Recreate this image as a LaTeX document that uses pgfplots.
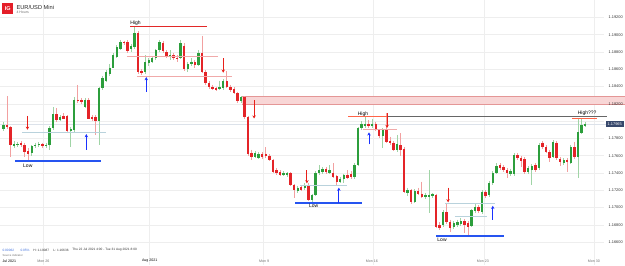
\documentclass[border=0pt]{standalone}
\usepackage{pgfplots}
\pgfplotsset{compat=1.18}
\usepackage{pgfplotstable}
\usepackage{fontspec}
\setmainfont{Liberation Sans}
\usetikzlibrary{arrows.meta}
\definecolor{cg}{RGB}{44,158,60}
\definecolor{cr}{RGB}{228,36,40}
\definecolor{wg}{RGB}{160,212,166}
\definecolor{wr}{RGB}{242,160,160}
\definecolor{gridc}{RGB}{238,238,238}
\definecolor{lowblue}{RGB}{38,84,240}
\definecolor{arrblue}{RGB}{26,50,255}
\definecolor{arrred}{RGB}{232,32,26}
\definecolor{palered}{RGB}{240,170,170}
\definecolor{paleblue}{RGB}{185,210,220}
\definecolor{hired}{RGB}{226,40,40}
\definecolor{hiorange}{RGB}{255,100,72}
\definecolor{pinkfill}{RGB}{248,214,214}
\definecolor{pinkedge}{RGB}{228,150,150}
\definecolor{boxc}{RGB}{55,72,108}
\definecolor{igred}{RGB}{228,30,40}
\definecolor{txtgrey}{RGB}{110,110,110}
\definecolor{infoblue}{RGB}{60,110,220}
\definecolor{pricel}{RGB}{220,226,234}
\newcommand{\tksz}{\fontsize{3.9}{4.5}\selectfont}
\newcommand{\xlsz}{\fontsize{3.6}{4.2}\selectfont}
\newcommand{\infosz}{\fontsize{3.2}{3.8}\selectfont}
\newcommand{\ansz}{\fontsize{5}{6}\selectfont}

\pgfplotstableread{
k o h l c
0 1.1791 1.1799 1.1788 1.1795
1 1.1795 1.1829 1.1791 1.1793
2 1.1793 1.1794 1.1758 1.1772
3 1.1771 1.1777 1.1769 1.1773
4 1.1772 1.1776 1.1770 1.1773
5 1.1775 1.1777 1.1770 1.1772
6 1.1772 1.1775 1.1758 1.1764
7 1.1765 1.1769 1.1754 1.1762
8 1.1763 1.1772 1.1760 1.1771
9 1.1771 1.1775 1.1769 1.1772
10 1.1772 1.1776 1.1770 1.1773
11 1.1773 1.1775 1.1769 1.1771
12 1.1771 1.1775 1.1769 1.1772
13 1.1772 1.1794 1.1767 1.1792
14 1.1792 1.1816 1.1790 1.1808
15 1.1808 1.1815 1.1799 1.1801
16 1.1801 1.1807 1.1800 1.1805
17 1.1806 1.1809 1.1802 1.1803
18 1.1806 1.1807 1.1786 1.1788
19 1.1788 1.1793 1.1770 1.1791
20 1.1790 1.1828 1.1787 1.1825
21 1.1825 1.1842 1.1821 1.1823
22 1.1824 1.1827 1.1820 1.1822
23 1.1816 1.1827 1.1815 1.1825
24 1.1825 1.1827 1.1802 1.1803
25 1.1805 1.1807 1.1800 1.1802
26 1.1805 1.1807 1.1784 1.1800
27 1.1800 1.1840 1.1772 1.1838
28 1.1838 1.1852 1.1836 1.1850
29 1.1847 1.1859 1.1845 1.1857
30 1.1854 1.1866 1.1852 1.1862
31 1.1862 1.1879 1.1861 1.1876
32 1.1874 1.1888 1.1873 1.1886
33 1.1884 1.1894 1.1882 1.1891
34 1.1891 1.1893 1.1888 1.1890
35 1.1891 1.1894 1.1879 1.1881
36 1.1883 1.1889 1.1880 1.1887
37 1.1886 1.1909 1.1884 1.1902
38 1.1902 1.1904 1.1854 1.1857
39 1.1858 1.1860 1.1853 1.1856
40 1.1857 1.1876 1.1854 1.1868
41 1.1867 1.1873 1.1864 1.1871
42 1.1869 1.1875 1.1867 1.1873
43 1.1873 1.1883 1.1871 1.1882
44 1.1882 1.1894 1.1880 1.1891
45 1.1890 1.1893 1.1879 1.1881
46 1.1880 1.1882 1.1873 1.1875
47 1.1874 1.1882 1.1871 1.1876
48 1.1876 1.1879 1.1871 1.1873
49 1.1873 1.1876 1.1869 1.1872
50 1.1873 1.1894 1.1872 1.1890
51 1.1887 1.1890 1.1858 1.1860
52 1.1860 1.1868 1.1857 1.1866
53 1.1866 1.1873 1.1864 1.1869
54 1.1868 1.1871 1.1862 1.1865
55 1.1865 1.1882 1.1864 1.1879
56 1.1879 1.1899 1.1856 1.1857
57 1.1857 1.1859 1.1842 1.1844
58 1.1844 1.1846 1.1837 1.1839
59 1.1839 1.1842 1.1836 1.1837
60 1.1838 1.1840 1.1835 1.1836
61 1.1837 1.1847 1.1836 1.1839
62 1.1838 1.1849 1.1836 1.1847
63 1.1846 1.1858 1.1838 1.1839
64 1.1839 1.1842 1.1834 1.1836
65 1.1837 1.1839 1.1831 1.1832
66 1.1832 1.1834 1.1821 1.1823
67 1.1823 1.1829 1.1821 1.1828
68 1.1828 1.1829 1.1802 1.1805
69 1.1805 1.1806 1.1760 1.1762
70 1.1763 1.1767 1.1755 1.1758
71 1.1758 1.1765 1.1757 1.1763
72 1.1757 1.1764 1.1756 1.1762
73 1.1762 1.1764 1.1756 1.1758
74 1.1762 1.1770 1.1757 1.1760
75 1.1760 1.1762 1.1754 1.1755
76 1.1755 1.1756 1.1740 1.1741
77 1.1743 1.1746 1.1738 1.1740
78 1.1741 1.1743 1.1736 1.1738
79 1.1738 1.1742 1.1736 1.1740
80 1.1738 1.1741 1.1735 1.1740
81 1.1740 1.1741 1.1725 1.1726
82 1.1726 1.1727 1.1711 1.1720
83 1.1719 1.1725 1.1717 1.1723
84 1.1724 1.1726 1.1719 1.1720
85 1.1723 1.1728 1.1720 1.1726
86 1.1726 1.1728 1.1708 1.1709
87 1.1709 1.1716 1.1706 1.1714
88 1.1714 1.1742 1.1713 1.1740
89 1.1740 1.1749 1.1738 1.1743
90 1.1741 1.1747 1.1739 1.1745
91 1.1745 1.1747 1.1739 1.1741
92 1.1740 1.1749 1.1739 1.1743
93 1.1740 1.1751 1.1734 1.1735
94 1.1736 1.1738 1.1726 1.1730
95 1.1730 1.1735 1.1728 1.1733
96 1.1733 1.1739 1.1728 1.1738
97 1.1738 1.1743 1.1733 1.1734
98 1.1739 1.1742 1.1733 1.1735
99 1.1735 1.1751 1.1733 1.1749
100 1.1749 1.1793 1.1748 1.1792
101 1.1792 1.1800 1.1790 1.1797
102 1.1794 1.1805 1.1792 1.1797
103 1.1797 1.1801 1.1792 1.1794
104 1.1794 1.1803 1.1792 1.1797
105 1.1797 1.1799 1.1788 1.1790
106 1.1790 1.1791 1.1780 1.1783
107 1.1783 1.1792 1.1769 1.1790
108 1.1790 1.1809 1.1775 1.1776
109 1.1777 1.1782 1.1772 1.1775
110 1.1775 1.1777 1.1765 1.1767
111 1.1767 1.1784 1.1764 1.1773
112 1.1772 1.1786 1.1760 1.1767
113 1.1768 1.1770 1.1717 1.1718
114 1.1717 1.1723 1.1713 1.1720
115 1.1720 1.1721 1.1704 1.1706
116 1.1706 1.1721 1.1705 1.1719
117 1.1719 1.1723 1.1714 1.1716
118 1.1716 1.1730 1.1711 1.1712
119 1.1712 1.1717 1.1710 1.1714
120 1.1712 1.1743 1.1694 1.1714
121 1.1713 1.1717 1.1711 1.1716
122 1.1714 1.1716 1.1676 1.1677
123 1.1680 1.1683 1.1674 1.1676
124 1.1680 1.1697 1.1677 1.1695
125 1.1695 1.1705 1.1681 1.1683
126 1.1683 1.1686 1.1672 1.1676
127 1.1677 1.1684 1.1675 1.1682
128 1.1680 1.1686 1.1677 1.1683
129 1.1681 1.1688 1.1679 1.1684
130 1.1684 1.1687 1.1671 1.1680
131 1.1682 1.1684 1.1666 1.1677
132 1.1679 1.1698 1.1677 1.1697
133 1.1696 1.1705 1.1694 1.1701
134 1.1701 1.1703 1.1694 1.1696
135 1.1695 1.1720 1.1693 1.1718
136 1.1718 1.1720 1.1711 1.1713
137 1.1714 1.1731 1.1712 1.1728
138 1.1728 1.1742 1.1726 1.1740
139 1.1740 1.1751 1.1739 1.1748
140 1.1749 1.1751 1.1743 1.1746
141 1.1747 1.1749 1.1741 1.1743
142 1.1743 1.1746 1.1734 1.1740
143 1.1739 1.1745 1.1736 1.1742
144 1.1739 1.1763 1.1736 1.1761
145 1.1761 1.1763 1.1755 1.1757
146 1.1757 1.1760 1.1747 1.1754
147 1.1756 1.1758 1.1739 1.1741
148 1.1741 1.1748 1.1739 1.1746
149 1.1743 1.1750 1.1726 1.1748
150 1.1749 1.1751 1.1741 1.1743
151 1.1746 1.1775 1.1743 1.1772
152 1.1775 1.1777 1.1768 1.1770
153 1.1770 1.1772 1.1763 1.1764
154 1.1764 1.1767 1.1753 1.1757
155 1.1758 1.1778 1.1757 1.1776
156 1.1775 1.1777 1.1755 1.1757
157 1.1756 1.1758 1.1748 1.1753
158 1.1751 1.1757 1.1749 1.1755
159 1.1755 1.1757 1.1741 1.1753
160 1.1751 1.1772 1.1750 1.1770
161 1.1770 1.1776 1.1756 1.1758
162 1.1758 1.1803 1.1734 1.1787
163 1.1786 1.1802 1.1785 1.1795
164 1.1794 1.1799 1.1793 1.17965
}\candles

\begin{document}
\begin{tikzpicture}
\begin{axis}[
  width=625pt, height=265pt, scale only axis,
  xmin=-0.845, xmax=175.2, ymin=1.16335, ymax=1.19399,
  hide axis, clip=false,
  candle/.style={draw=none, no markers, forget plot,
    error bars/.cd, y dir=minus, y explicit, error mark=none},
]
\path (rel axis cs:0,0) rectangle (rel axis cs:1,1);
% grid
\foreach \v in {1.166,1.168,1.170,1.172,1.174,1.176,1.178,1.180,1.182,1.184,1.186,1.188,1.190,1.192}{
  \edef\tmp{\noexpand\draw[gridc, line width=0.5pt] (axis cs:-0.845,\v) -- (axis cs:169.3,\v);}\tmp
}
\foreach \v in {11.27,41.13,73.24,104.2,135.5,166.5}{
  \edef\tmp{\noexpand\draw[gridc, line width=0.5pt] (axis cs:\v,1.16335) -- (axis cs:\v,1.19399);}\tmp
}
% pink zone
\addplot[draw=none, fill=pinkfill, forget plot] coordinates {(67.3,1.1820) (175.2,1.1820) (175.2,1.1829) (67.3,1.1829)} -- cycle;
\addplot[pinkedge, line width=0.6pt, forget plot] coordinates {(67.3,1.1829) (175.2,1.1829)};
\addplot[pinkedge, line width=0.6pt, forget plot] coordinates {(67.3,1.1820) (175.2,1.1820)};
% current price line
\addplot[pricel, line width=0.6pt, forget plot] coordinates {(-0.845,1.17965) (169.9,1.17965)};

% wicks
\addplot[candle, error bar style={draw=wg, line width=0.7pt}]
  table[x=k, y expr={\thisrow{c}<\thisrow{o} ? nan : \thisrow{h}}, y error expr={\thisrow{h}-\thisrow{l}}] {\candles};
\addplot[candle, error bar style={draw=wr, line width=0.7pt}]
  table[x=k, y expr={\thisrow{c}<\thisrow{o} ? \thisrow{h} : nan}, y error expr={\thisrow{h}-\thisrow{l}}] {\candles};
% bodies
\addplot[candle, error bar style={draw=cg, line width=2.4pt}]
  table[x=k, y expr={\thisrow{c}<\thisrow{o} ? nan : \thisrow{c}}, y error expr={\thisrow{c}-\thisrow{o}}] {\candles};
\addplot[candle, error bar style={draw=cr, line width=2.4pt}]
  table[x=k, y expr={\thisrow{c}<\thisrow{o} ? \thisrow{o} : nan}, y error expr={\thisrow{o}-\thisrow{c}}] {\candles};

% annotations: lines
\addplot[hired, line width=0.9pt] coordinates {(35.8,1.1909) (57.5,1.1909)};
\addplot[palered, line width=0.7pt] coordinates {(34.9,1.1875) (60.6,1.1875)};
\addplot[palered, line width=0.7pt] coordinates {(37.7,1.1852) (64.5,1.1852)};
\addplot[paleblue, line width=0.7pt] coordinates {(5.4,1.1787) (29,1.1787)};
\addplot[lowblue, line width=1.5pt] coordinates {(3.4,1.1754) (27.6,1.1754)};
\addplot[paleblue, line width=0.7pt] coordinates {(83.7,1.1726) (96.9,1.1726)};
\addplot[lowblue, line width=1.5pt] coordinates {(82.3,1.1705) (101.1,1.1705)};
\addplot[gray!80!black, line width=0.7pt] coordinates {(108.5,1.1805) (170.1,1.1805)};
\addplot[hiorange, line width=1.1pt] coordinates {(97.2,1.1805) (108.5,1.1805)};
\addplot[palered, line width=0.7pt] coordinates {(101.4,1.1791) (111,1.1791)};
\addplot[hiorange, line width=1.3pt] coordinates {(160.3,1.1803) (167.3,1.1803)};
\addplot[paleblue, line width=0.7pt] coordinates {(124.5,1.1705) (138.6,1.1705)};
\addplot[paleblue, line width=0.7pt] coordinates {(127.3,1.1690) (136.3,1.1690)};
\addplot[lowblue, line width=1.5pt] coordinates {(122,1.1667) (141.1,1.1667)};
% arrows
\pgfplotsset{arr/.style={line width=0.9pt, -{Stealth[length=3.2pt,width=3.4pt]}}}
\addplot[arrblue, arr] coordinates {(40.3,1.1834) (40.3,1.1851)};
\addplot[arrred, arr] coordinates {(62,1.1873) (62,1.1856)};
\addplot[arrred, arr] coordinates {(6.8,1.1806) (6.8,1.1790)};
\addplot[arrblue, arr] coordinates {(23.4,1.1767) (23.4,1.1785)};
\addplot[arrred, arr] coordinates {(70.7,1.1824) (70.7,1.1803)};
\addplot[arrred, arr] coordinates {(85.6,1.1743) (85.6,1.1728)};
\addplot[arrblue, arr] coordinates {(94.6,1.1705) (94.6,1.1723)};
\addplot[arrred, arr] coordinates {(108.2,1.1809) (108.2,1.1792)};
\addplot[arrblue, arr] coordinates {(103.1,1.1773) (103.1,1.1787)};
\addplot[arrred, arr] coordinates {(125.4,1.1723) (125.4,1.1706)};
\addplot[arrblue, arr] coordinates {(138,1.1686) (138,1.1702)};

% annotation texts
\node[inner sep=0pt, font=\ansz] at (axis cs:37.3,1.19133) {High};
\node[inner sep=0pt, font=\ansz] at (axis cs:6.9,1.17486) {Low};
\node[inner sep=0pt, font=\ansz] at (axis cs:87.5,1.17018) {Low};
\node[inner sep=0pt, font=\ansz] at (axis cs:101.4,1.18081) {High};
\node[inner sep=0pt, font=\ansz] at (axis cs:164.6,1.18088) {High???};
\node[inner sep=0pt, font=\ansz] at (axis cs:123.7,1.16625) {Low};

% y tick labels
\foreach \v/\t in {1.192/1.19200,1.190/1.19000,1.188/1.18800,1.186/1.18600,1.184/1.18400,1.182/1.18200,1.178/1.17800,1.176/1.17600,1.174/1.17400,1.172/1.17200,1.170/1.17000,1.168/1.16800,1.166/1.16600}{
  \edef\tmp{\noexpand\node[anchor=east, inner sep=0pt, font=\noexpand\tksz, text=black!80] at (axis cs:174.7,\v) {\t};}\tmp
}
% price box
\fill[boxc] (axis cs:169.9,1.1800) rectangle (axis cs:174.9,1.1793);
\node[inner sep=0pt, font=\tksz, text=white] at (axis cs:172.4,1.17965) {1.17965};

% x labels
\node[anchor=west, inner sep=0pt, font=\xlsz, text=black] at (axis cs:-0.28,1.16382) {Jul 2021};
\node[inner sep=0pt, font=\xlsz, text=txtgrey] at (axis cs:11.27,1.16382) {Mon 26};
\node[inner sep=0pt, font=\xlsz, text=black] at (axis cs:41.27,1.16382) {Aug 2021};
\node[inner sep=0pt, font=\xlsz, text=txtgrey] at (axis cs:73.5,1.16382) {Mon 9};
\node[inner sep=0pt, font=\xlsz, text=txtgrey] at (axis cs:103.9,1.16382) {Mon 16};
\node[inner sep=0pt, font=\xlsz, text=txtgrey] at (axis cs:135.2,1.16382) {Mon 23};
\node[inner sep=0pt, font=\xlsz, text=txtgrey] at (axis cs:166.5,1.16382) {Mon 30};

% info line
\node[anchor=west, inner sep=0pt, font=\infosz, text=infoblue] at (axis cs:-0.28,1.16509) {0.00062};
\node[anchor=west, inner sep=0pt, font=\infosz, text=infoblue] at (axis cs:4.79,1.16509) {0.05\%};
\node[anchor=west, inner sep=0pt, font=\infosz, text=black!80] at (axis cs:8.45,1.16509) {H: 1.19087};
\node[anchor=west, inner sep=0pt, font=\infosz, text=black!80] at (axis cs:14.08,1.16509) {L: 1.16636};
\node[anchor=west, inner sep=0pt, font=\infosz, text=black!80] at (axis cs:19.44,1.16509) {Thu 22 Jul 2021 4:00 - Tue 31 Aug 2021 8:00};
\node[anchor=west, inner sep=0pt, font=\fontsize{2.8}{3.2}\selectfont, text=txtgrey] at (axis cs:-0.28,1.16445) {Source indicator};

% logo and title
\fill[igred] (axis cs:-0.28,1.19364) rectangle (axis cs:2.82,1.19237);
\node[inner sep=0pt, font=\bfseries\fontsize{5.5}{6}\selectfont, text=white] at (axis cs:1.27,1.19300) {IG};
\node[anchor=west, inner sep=0pt, font=\fontsize{5.7}{6.5}\selectfont, text=black!85] at (axis cs:3.66,1.19318) {EUR/USD Mini};
\node[anchor=west, inner sep=0pt, font=\fontsize{3.5}{4}\selectfont, text=txtgrey] at (axis cs:3.66,1.19255) {4 Hours};
\end{axis}
\end{tikzpicture}
\end{document}
